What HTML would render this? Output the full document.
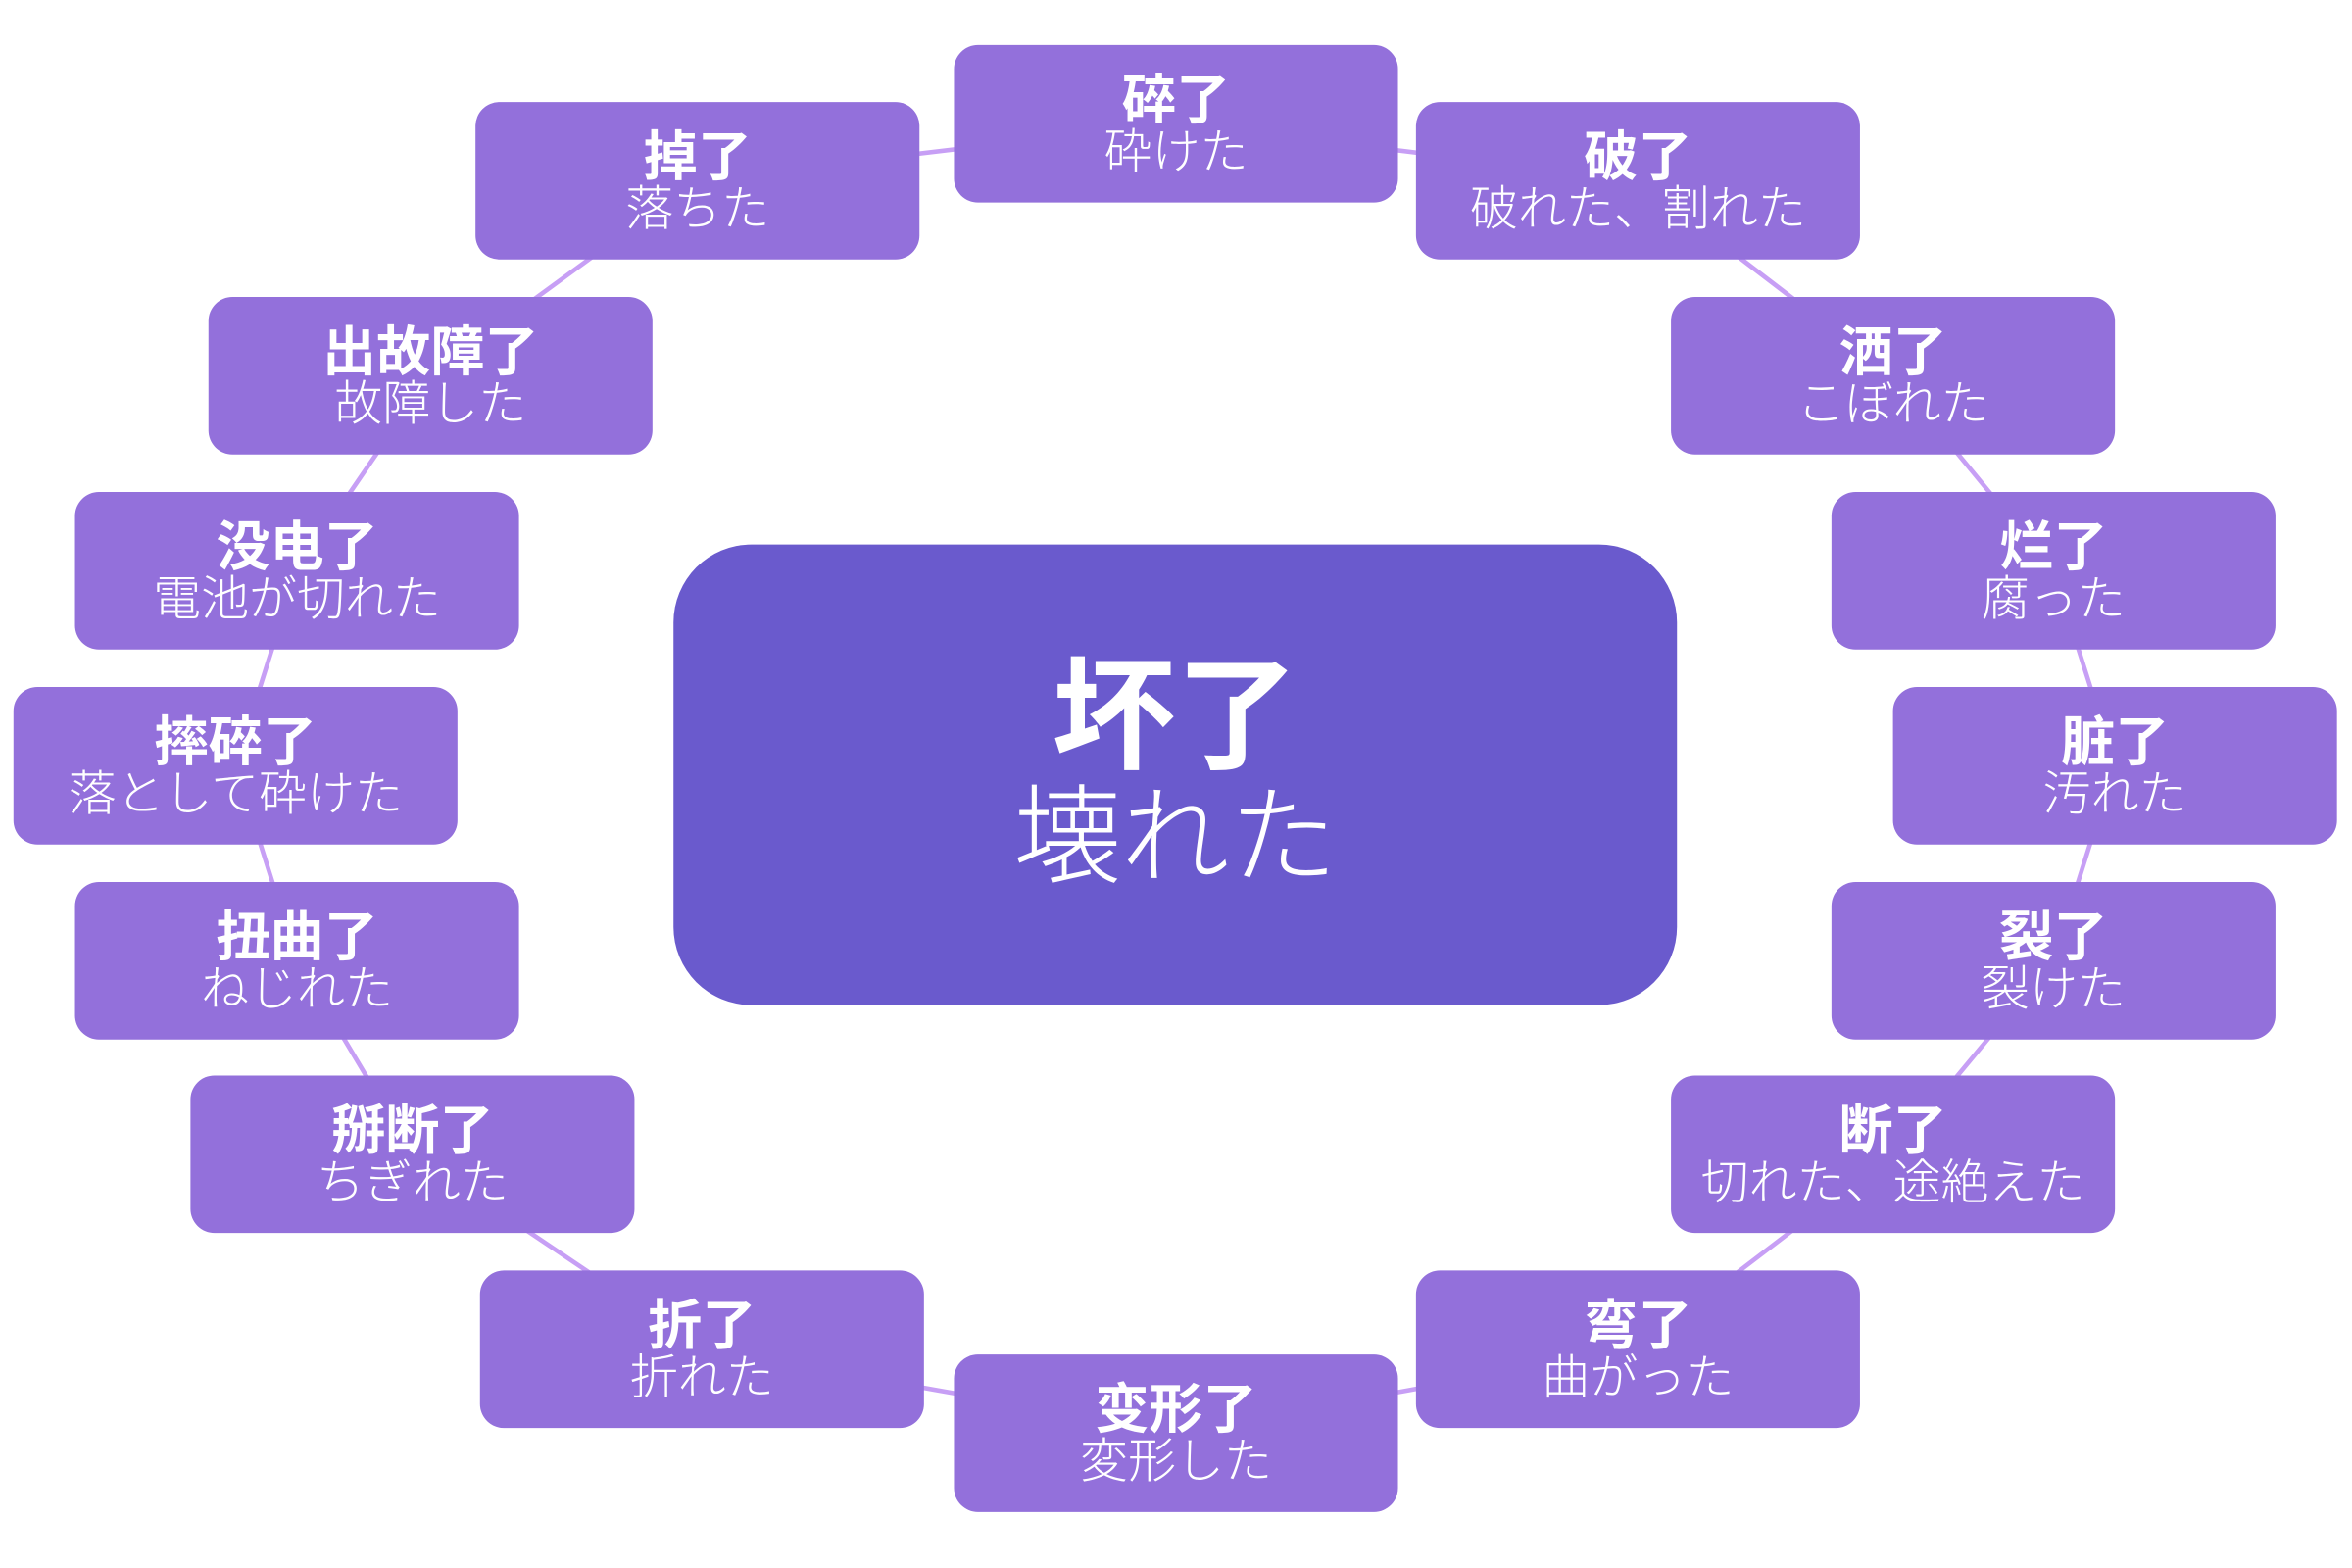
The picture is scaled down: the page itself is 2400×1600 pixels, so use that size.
<!DOCTYPE html>
<html><head><meta charset="utf-8"><style>
html,body{margin:0;padding:0;background:#fff;}
body{width:2400px;height:1600px;overflow:hidden;position:relative;}
#w{position:absolute;left:0;top:0;width:1568px;height:1045px;transform:scale(1.5306);transform-origin:0 0;font-family:"Liberation Sans","Noto Sans CJK JP",sans-serif;}
.b{position:absolute;width:296px;height:105px;margin-left:-148px;margin-top:-52px;background:#9370db;border-radius:16px;color:#fff;display:flex;flex-direction:column;align-items:center;justify-content:center;text-align:center;line-height:1.0;}
.b .t{font-size:36px;font-weight:bold;}
.b .s{font-size:32px;font-weight:300;}
#c{position:absolute;left:449px;top:363px;width:669px;height:307px;background:#6a5acd;border-radius:52px;color:#fff;display:flex;flex-direction:column;align-items:center;justify-content:center;line-height:1.05;}
#c .t{font-size:82px;font-weight:bold;}
#c .s{font-size:72px;font-weight:300;}
svg{position:absolute;left:0;top:0;}
</style></head><body><div id="w">
<svg width="1568" height="1045"><polygon points="784,82 1092,120 1262,250 1369,380 1410,510 1369,640 1262,769 1092,899 784,955 468,899 275,769 198,640 157,510 198,380 287,250 465,120" fill="none" stroke="#c79ff5" stroke-width="3"/></svg>
<div id="c"><div class="t">坏了</div><div class="s">壊れた</div></div>
<div class="b" style="left:784px;top:82px"><div class="t">碎了</div><div class="s">砕けた</div></div>
<div class="b" style="left:465px;top:120px"><div class="t">掉了</div><div class="s">落ちた</div></div>
<div class="b" style="left:1092px;top:120px"><div class="t">破了</div><div class="s">破れた、割れた</div></div>
<div class="b" style="left:287px;top:250px"><div class="t">出故障了</div><div class="s">故障した</div></div>
<div class="b" style="left:1262px;top:250px"><div class="t">洒了</div><div class="s">こぼれた</div></div>
<div class="b" style="left:198px;top:380px"><div class="t">没电了</div><div class="s">電池が切れた</div></div>
<div class="b" style="left:1369px;top:380px"><div class="t">烂了</div><div class="s">腐った</div></div>
<div class="b" style="left:157px;top:510px"><div class="t">摔碎了</div><div class="s">落として砕けた</div></div>
<div class="b" style="left:1410px;top:510px"><div class="t">脏了</div><div class="s">汚れた</div></div>
<div class="b" style="left:198px;top:640px"><div class="t">扭曲了</div><div class="s">ねじれた</div></div>
<div class="b" style="left:1369px;top:640px"><div class="t">裂了</div><div class="s">裂けた</div></div>
<div class="b" style="left:275px;top:769px"><div class="t">掰断了</div><div class="s">ちぎれた</div></div>
<div class="b" style="left:1262px;top:769px"><div class="t">断了</div><div class="s">切れた、途絶えた</div></div>
<div class="b" style="left:468px;top:899px"><div class="t">折了</div><div class="s">折れた</div></div>
<div class="b" style="left:1092px;top:899px"><div class="t">弯了</div><div class="s">曲がった</div></div>
<div class="b" style="left:784px;top:955px"><div class="t">变形了</div><div class="s">変形した</div></div>
</div></body></html>
